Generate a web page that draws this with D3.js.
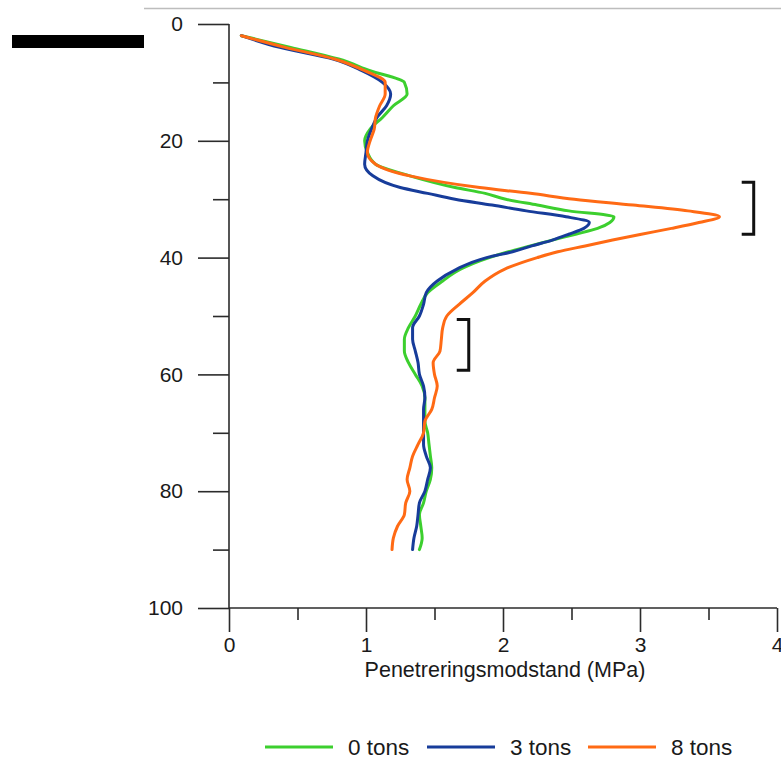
<!DOCTYPE html>
<html>
<head>
<meta charset="utf-8">
<script src="https://cdn.jsdelivr.net/npm/d3@7"></script>
<style>
  body { margin: 0; background: #fff; }
  svg { display: block; font-family: "Liberation Sans", Arial, sans-serif; }
</style>
</head>
<body>
<div id="chart"></div>
<script>
// depth (cm) and penetration resistance (MPa)
var depths = [2, 4, 6, 8, 10, 12, 14, 16, 18, 20, 22, 24, 26, 28, 29, 30, 31, 32, 33, 34, 35, 36, 37, 38, 39, 40,
  42, 44, 46, 48, 50, 52, 54, 56, 58, 60, 62, 64, 66, 68, 70, 72, 74, 76, 78, 80, 82, 84, 86, 88, 90];

var tons0 = [0.09, 0.45, 0.80, 1.03, 1.28, 1.30, 1.20, 1.12, 1.03, 0.99, 1.01, 1.07, 1.32, 1.65, 1.87, 2.02, 2.25, 2.48, 2.81, 2.78, 2.69, 2.53, 2.36, 2.20, 2.04, 1.90,
  1.69, 1.56, 1.45, 1.40, 1.36, 1.31, 1.28, 1.28, 1.31, 1.36, 1.41, 1.43, 1.43, 1.43, 1.45, 1.46, 1.47, 1.48, 1.47, 1.44, 1.42, 1.39, 1.40, 1.41, 1.39];

var tons3 = [0.09, 0.37, 0.76, 0.97, 1.12, 1.18, 1.15, 1.08, 1.04, 1.01, 1.00, 0.99, 1.05, 1.25, 1.45, 1.65, 1.92, 2.17, 2.46, 2.63, 2.59, 2.48, 2.36, 2.21, 2.07, 1.88,
  1.66, 1.52, 1.44, 1.42, 1.39, 1.34, 1.34, 1.36, 1.38, 1.39, 1.42, 1.43, 1.42, 1.42, 1.42, 1.42, 1.44, 1.47, 1.45, 1.43, 1.39, 1.38, 1.37, 1.35, 1.34];

var tons8 = [0.09, 0.41, 0.77, 0.99, 1.14, 1.14, 1.10, 1.07, 1.06, 1.03, 1.01, 1.07, 1.32, 1.83, 2.20, 2.52, 2.95, 3.35, 3.58, 3.43, 3.23, 3.01, 2.80, 2.60, 2.40, 2.25,
  2.01, 1.87, 1.78, 1.68, 1.59, 1.56, 1.55, 1.54, 1.49, 1.50, 1.52, 1.50, 1.48, 1.43, 1.42, 1.38, 1.34, 1.32, 1.30, 1.32, 1.29, 1.28, 1.23, 1.20, 1.19];

var seriesNames = ["0 tons", "3 tons", "8 tons"];
var seriesColors = ["#3ccf2e", "#173c9a", "#ff6a14"];

var xMajor = [0, 1, 2, 3, 4];
var xMinor = [0.5, 1.5, 2.5, 3.5];
var yMajor = [0, 20, 40, 60, 80, 100];
var yMinor = [10, 30, 50, 70, 90];

// brackets: [depth top, depth bottom, x of spine]
var brackets = [[27.1, 36.0, 3.83], [50.6, 59.3, 1.75]];

var W = 781, H = 772;

var svg = d3.select("#chart")
  .append("svg")
  .attr("width", W)
  .attr("height", H);

var x = d3.scaleLinear().domain([0, 4]).range([229, 777]);
var y = d3.scaleLinear().domain([0, 100]).range([24, 608]);

// thin rule at the top and black bar on the left
svg.append("line")
  .attr("x1", 144).attr("x2", W)
  .attr("y1", 8.5).attr("y2", 8.5)
  .attr("stroke", "#bdbdbd")
  .attr("stroke-width", 1.5);

svg.append("rect")
  .attr("x", 12).attr("y", 35)
  .attr("width", 132).attr("height", 13)
  .attr("fill", "#000");

var axisColor = "#2b2b2b";

// left axis: majors with labels, minors without
svg.append("g")
  .attr("transform", "translate(229,0)")
  .call(d3.axisLeft(y).tickValues(yMajor).tickSize(31).tickPadding(15))
  .call(function(g) { g.select(".domain").remove(); });

svg.append("g")
  .attr("transform", "translate(229,0)")
  .call(d3.axisLeft(y).tickValues(yMinor).tickSize(16).tickFormat(""))
  .call(function(g) { g.select(".domain").remove(); });

// bottom axis
svg.append("g")
  .attr("transform", "translate(0,608)")
  .call(d3.axisBottom(x).tickValues(xMajor).tickSize(24).tickPadding(5).tickFormat(d3.format("d")))
  .call(function(g) { g.select(".domain").remove(); });

svg.append("g")
  .attr("transform", "translate(0,608)")
  .call(d3.axisBottom(x).tickValues(xMinor).tickSize(12).tickFormat(""))
  .call(function(g) { g.select(".domain").remove(); });

// axis lines
svg.append("line")
  .attr("x1", x(0)).attr("x2", x(0))
  .attr("y1", y(0)).attr("y2", y(100))
  .attr("class", "axline");
svg.append("line")
  .attr("x1", x(0)).attr("x2", x(4))
  .attr("y1", y(100)).attr("y2", y(100))
  .attr("class", "axline");

svg.selectAll(".axline")
  .attr("stroke", axisColor)
  .attr("stroke-width", 1.6);

svg.selectAll(".tick line")
  .attr("stroke", axisColor)
  .attr("stroke-width", 1.6);

svg.selectAll(".tick text")
  .attr("fill", "#1a1a1a")
  .style("font-size", "21px")
  .style("font-family", "'Liberation Sans', Arial, sans-serif");

// axis title
svg.append("text")
  .attr("x", 505)
  .attr("y", 677)
  .attr("text-anchor", "middle")
  .attr("fill", "#1a1a1a")
  .style("font-size", "21.5px")
  .text("Penetreringsmodstand (MPa)");

// curves
var allSeries = [tons0, tons3, tons8];
var line = d3.line()
  .x(function(d) { return x(d[1]); })
  .y(function(d) { return y(d[0]); })
  .curve(d3.curveMonotoneY);

allSeries.forEach(function(vals, i) {
  var pts = depths.map(function(d, j) { return [d, vals[j]]; });
  svg.append("path")
    .datum(pts)
    .attr("d", line)
    .attr("fill", "none")
    .attr("stroke", seriesColors[i])
    .attr("stroke-width", 3)
    .attr("stroke-linejoin", "round")
    .attr("stroke-linecap", "round");
});

// brackets
brackets.forEach(function(b) {
  var sx = x(b[2]);
  svg.append("path")
    .attr("d", "M" + (sx - 12) + "," + y(b[0]) + "H" + sx + "V" + y(b[1]) + "H" + (sx - 12))
    .attr("fill", "none")
    .attr("stroke", "#111")
    .attr("stroke-width", 3);
});

// legend
var legendX = [265, 427, 588];
var leg = svg.append("g").attr("transform", "translate(0,747)");
seriesNames.forEach(function(name, i) {
  leg.append("line")
    .attr("x1", legendX[i]).attr("x2", legendX[i] + 68)
    .attr("y1", 0).attr("y2", 0)
    .attr("stroke", seriesColors[i])
    .attr("stroke-width", 3);
  leg.append("text")
    .attr("x", legendX[i] + 83)
    .attr("y", 0)
    .attr("dy", "0.35em")
    .attr("fill", "#1a1a1a")
    .style("font-size", "22.5px")
    .text(name);
});
</script>
</body>
</html>
